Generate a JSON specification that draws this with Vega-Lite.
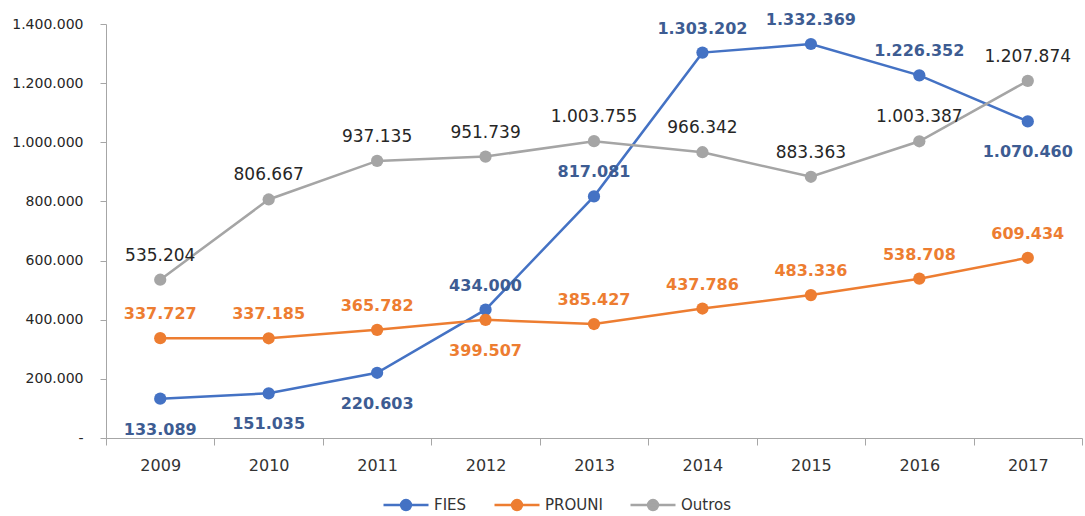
{
  "$schema": "https://vega.github.io/schema/vega-lite/v6.json",
  "width": 976,
  "height": 414,
  "autosize": "none",
  "padding": {"left": 106, "top": 24, "right": 3, "bottom": 78},
  "background": "white",
  "config": {
    "locale": {"number": {"decimal": ",", "thousands": ".", "grouping": [3], "currency": ["R$", ""]}},
    "view": {"stroke": null},
    "font": "DejaVu Sans"
  },
  "data": {
    "values": [
      {"serie": "FIES", "ano": 2009, "valor": 133089},
      {"serie": "FIES", "ano": 2010, "valor": 151035},
      {"serie": "FIES", "ano": 2011, "valor": 220603},
      {"serie": "FIES", "ano": 2012, "valor": 434000},
      {"serie": "FIES", "ano": 2013, "valor": 817081},
      {"serie": "FIES", "ano": 2014, "valor": 1303202},
      {"serie": "FIES", "ano": 2015, "valor": 1332369},
      {"serie": "FIES", "ano": 2016, "valor": 1226352},
      {"serie": "FIES", "ano": 2017, "valor": 1070460},
      {"serie": "PROUNI", "ano": 2009, "valor": 337727},
      {"serie": "PROUNI", "ano": 2010, "valor": 337185},
      {"serie": "PROUNI", "ano": 2011, "valor": 365782},
      {"serie": "PROUNI", "ano": 2012, "valor": 399507},
      {"serie": "PROUNI", "ano": 2013, "valor": 385427},
      {"serie": "PROUNI", "ano": 2014, "valor": 437786},
      {"serie": "PROUNI", "ano": 2015, "valor": 483336},
      {"serie": "PROUNI", "ano": 2016, "valor": 538708},
      {"serie": "PROUNI", "ano": 2017, "valor": 609434},
      {"serie": "Outros", "ano": 2009, "valor": 535204},
      {"serie": "Outros", "ano": 2010, "valor": 806667},
      {"serie": "Outros", "ano": 2011, "valor": 937135},
      {"serie": "Outros", "ano": 2012, "valor": 951739},
      {"serie": "Outros", "ano": 2013, "valor": 1003755},
      {"serie": "Outros", "ano": 2014, "valor": 966342},
      {"serie": "Outros", "ano": 2015, "valor": 883363},
      {"serie": "Outros", "ano": 2016, "valor": 1003387},
      {"serie": "Outros", "ano": 2017, "valor": 1207874}
    ]
  },
  "encoding": {
    "x": {
      "field": "ano",
      "type": "ordinal",
      "scale": {"type": "band", "paddingInner": 0, "paddingOuter": 0},
      "axis": {
        "title": null,
        "labelAngle": 0,
        "tickBand": "extent",
        "grid": false,
        "domainColor": "#A6A6A6",
        "tickColor": "#A6A6A6",
        "tickSize": 7,
        "labelFontSize": 16,
        "labelColor": "#333333",
        "labelPadding": 12
      }
    },
    "y": {
      "field": "valor",
      "type": "quantitative",
      "scale": {"domain": [0, 1400000]},
      "axis": {
        "title": null,
        "values": [0, 200000, 400000, 600000, 800000, 1000000, 1200000, 1400000],
        "format": ",d",
        "labelExpr": "datum.value === 0 ? '-' : datum.label",
        "grid": false,
        "domainColor": "#A6A6A6",
        "tickColor": "#A6A6A6",
        "tickSize": 6,
        "labelPadding": 17,
        "labelFontSize": 14,
        "labelColor": "#262626"
      }
    }
  },
  "layer": [
    {
      "mark": {"type": "line", "strokeWidth": 2.5},
      "encoding": {
        "color": {
          "field": "serie",
          "type": "nominal",
          "scale": {"domain": ["FIES", "PROUNI", "Outros"], "range": ["#4472C4", "#ED7D31", "#A5A5A5"]},
          "legend": {
            "orient": "none",
            "legendX": 276,
            "legendY": 457,
            "direction": "horizontal",
            "title": null,
            "symbolType": "M-1,0L1,0M-0.22,0A0.22,0.22 0 1,0 0.22,0A0.22,0.22 0 1,0 -0.22,0Z",
            "symbolSize": 2025,
            "symbolStrokeWidth": 2.5,
            "labelFontSize": 15,
            "labelColor": "#333333",
            "labelOffset": 4,
            "columnPadding": 22,
            "encode": {
              "symbols": {
                "update": {
                  "fill": {"scale": "color", "field": "value"},
                  "stroke": {"scale": "color", "field": "value"},
                  "opacity": {"value": 1}
                }
              }
            }
          }
        }
      }
    },
    {
      "mark": {"type": "point", "filled": true, "size": 150, "opacity": 1},
      "encoding": {
        "color": {"field": "serie", "type": "nominal", "legend": null}
      }
    },
    {
      "transform": [
        {"filter": "datum.serie !== 'Outros' && !((datum.serie === 'FIES' && (datum.ano <= 2011 || datum.ano === 2017)) || (datum.serie === 'PROUNI' && datum.ano === 2012))"}
      ],
      "mark": {"type": "text", "dy": -24, "fontSize": 16, "fontWeight": "bold"},
      "encoding": {
        "text": {"field": "valor", "type": "quantitative", "format": ",d"},
        "color": {
          "condition": {"test": "datum.serie === 'FIES'", "value": "#3D5C92"},
          "value": "#ED7D31"
        }
      }
    },
    {
      "transform": [
        {"filter": "(datum.serie === 'FIES' && (datum.ano <= 2011 || datum.ano === 2017)) || (datum.serie === 'PROUNI' && datum.ano === 2012)"}
      ],
      "mark": {"type": "text", "dy": 31, "fontSize": 16, "fontWeight": "bold"},
      "encoding": {
        "text": {"field": "valor", "type": "quantitative", "format": ",d"},
        "color": {
          "condition": {"test": "datum.serie === 'FIES'", "value": "#3D5C92"},
          "value": "#ED7D31"
        }
      }
    },
    {
      "transform": [{"filter": "datum.serie === 'Outros'"}],
      "mark": {"type": "text", "dy": -24, "fontSize": 17, "color": "#262626"},
      "encoding": {
        "text": {"field": "valor", "type": "quantitative", "format": ",d"}
      }
    }
  ]
}
